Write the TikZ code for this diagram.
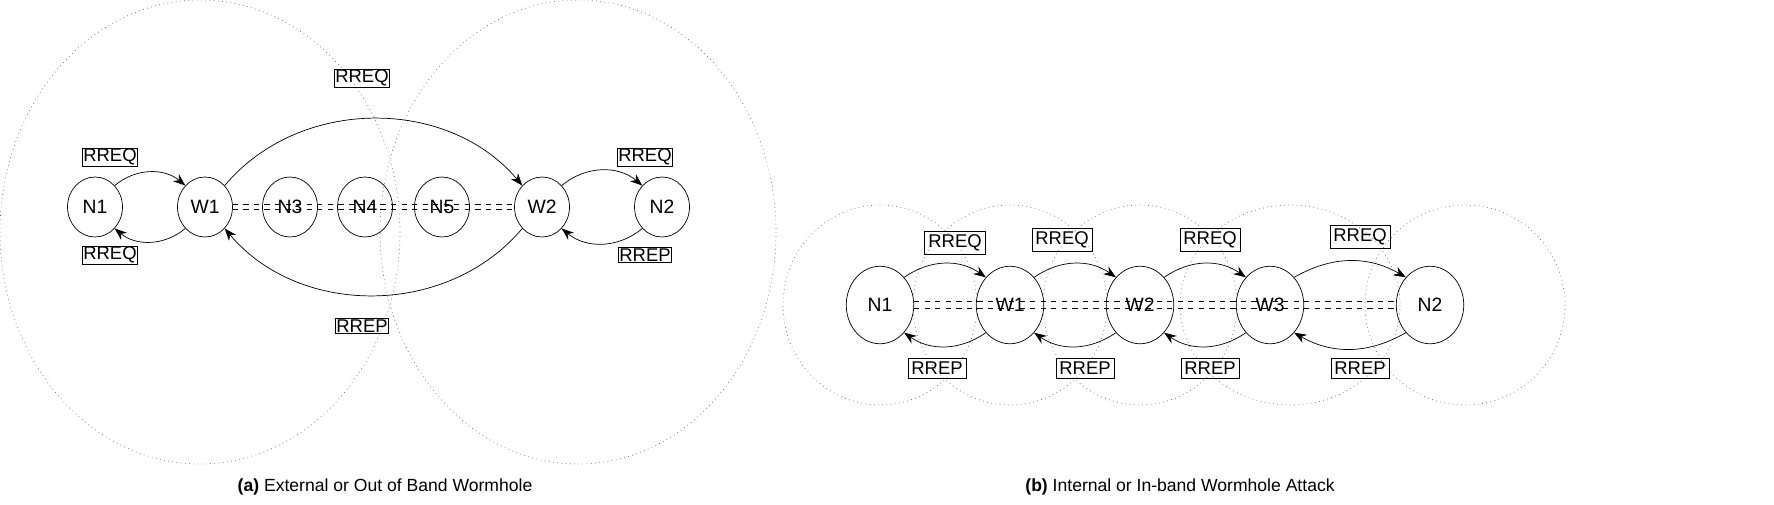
\documentclass[tikz,border=0pt]{standalone}
\usepackage{fontspec}
\setmainfont{Liberation Sans}
\usetikzlibrary{arrows.meta}
\usetikzlibrary{shapes.geometric}
\tikzset{
  nd/.style={ellipse, draw, minimum width=1.1cm, minimum height=1.2cm, inner sep=0pt, font=\fontsize{11}{13}\selectfont},
  ndb/.style={ellipse, draw, minimum width=1.35cm, minimum height=1.55cm, inner sep=0pt, font=\fontsize{11}{13}\selectfont},
  msg/.style={draw, inner sep=0.5pt, font=\fontsize{10.5}{12}\selectfont},
  msgb/.style={draw, inner sep=2pt, font=\fontsize{10.5}{12}\selectfont},
  rng/.style={dotted, gray!80!black},
  flow/.style={-{Stealth[length=7pt]}, thin},
  tunnel/.style={dashed, thin},
}
\begin{document}
\begin{tikzpicture}[x=0.02cm, y=-0.02cm]
\useasboundingbox (0,0) rectangle (1774,504);
% (a) out of band
\draw[rng] (200,232) ellipse (200 and 232);
\draw[rng] (578,232) ellipse (198 and 232);
\node[nd] (a1) at (95,207) {N1};
\node[nd] (aw1) at (205,207) {W1};
\node[nd] (a3) at (290,207) {N3};
\node[nd] (a4) at (365,207) {N4};
\node[nd] (a5) at (442,207) {N5};
\node[nd] (aw2) at (542,207) {W2};
\node[nd] (a2) at (662,207) {N2};
\draw[tunnel] ([yshift=1.5pt]aw1.east) -- ([yshift=1.5pt]aw2.west);
\draw[tunnel] ([yshift=-1.5pt]aw1.east) -- ([yshift=-1.5pt]aw2.west);
\draw[flow] (a1.north east) to[bend left=40] (aw1.north west);
\draw[flow] (aw1.south west) to[bend left=40] (a1.south east);
\draw[flow] (aw1.north east) to[out=50, in=130] (aw2.north west);
\draw[flow] (aw2.south west) to[out=230, in=310] (aw1.south east);
\draw[flow] (aw2.north east) to[bend left=40] (a2.north west);
\draw[flow] (a2.south west) to[bend left=40] (aw2.south east);
\node[msg] (qa1) at (110,157) {RREQ};
\node[msg] (qa2) at (110,255) {RREQ};
\node[msg] (qa3) at (362,78) {RREQ};
\node[msg] (pa3) at (362,326) {RREP};
\node[msg] (qa4) at (645,157) {RREQ};
\node[msg] (pa4) at (645,255) {RREP};
\node (capa) at (385,487) {\textbf{(a)} External or Out of Band Wormhole};
% (b) in band
\draw[rng] (880,305) ellipse (97 and 100);
\draw[rng] (1010,305) ellipse (97 and 100);
\draw[rng] (1140,305) ellipse (97 and 100);
\draw[rng] (1290,305) ellipse (110 and 100);
\draw[rng] (1465,305) ellipse (100 and 100);
\node[ndb] (b1) at (880,305) {N1};
\node[ndb] (bw1) at (1010,305) {W1};
\node[ndb] (bw2) at (1140,305) {W2};
\node[ndb] (bw3) at (1270,305) {W3};
\node[ndb] (b2) at (1430,305) {N2};
\draw[tunnel] ([yshift=2pt]b1.east) -- ([yshift=2pt]b2.west);
\draw[tunnel] ([yshift=-2pt]b1.east) -- ([yshift=-2pt]b2.west);
\draw[flow] (b1.north east) to[bend left=35] (bw1.north west);
\draw[flow] (bw1.north east) to[bend left=35] (bw2.north west);
\draw[flow] (bw2.north east) to[bend left=35] (bw3.north west);
\draw[flow] (bw3.north east) to[bend left=30] (b2.north west);
\draw[flow] (bw1.south west) to[bend left=35] (b1.south east);
\draw[flow] (bw2.south west) to[bend left=35] (bw1.south east);
\draw[flow] (bw3.south west) to[bend left=35] (bw2.south east);
\draw[flow] (b2.south west) to[bend left=30] (bw3.south east);
\node[msgb] (qb1) at (955,243) {RREQ};
\node[msgb] (qb2) at (1062,240) {RREQ};
\node[msgb] (qb3) at (1210,240) {RREQ};
\node[msgb] (qb4) at (1360,237) {RREQ};
\node[msgb] (pb1) at (937,368) {RREP};
\node[msgb] (pb2) at (1085,368) {RREP};
\node[msgb] (pb3) at (1210,368) {RREP};
\node[msgb] (pb4) at (1360,368) {RREP};
\node (capa) at (1180,487) {\textbf{(b)} Internal or In-band Wormhole Attack};
\end{tikzpicture}
\end{document}
